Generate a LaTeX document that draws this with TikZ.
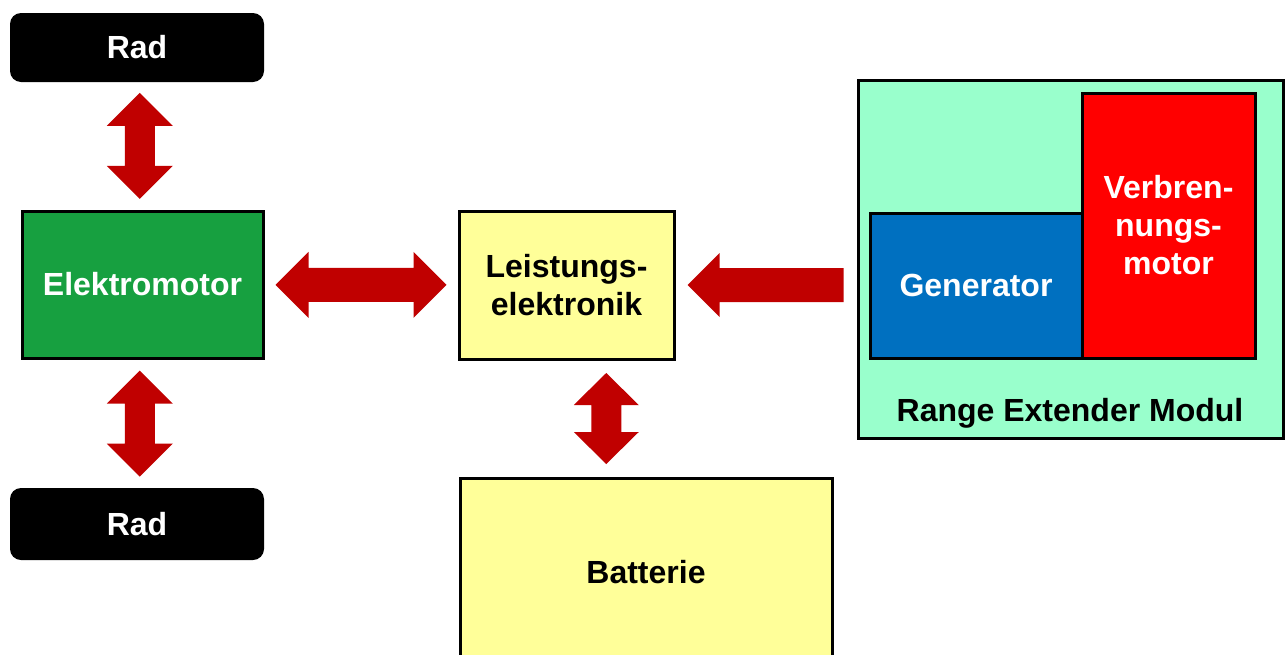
\documentclass[tikz,border=0pt]{standalone}
\usepackage{fontspec}
\setmainfont{Liberation Sans}
\usetikzlibrary{calc}
\definecolor{arrowred}{HTML}{C00000}
\definecolor{emgreen}{HTML}{17A040}
\definecolor{genblue}{HTML}{0070C0}
\definecolor{vmred}{HTML}{FF0000}
\definecolor{remint}{HTML}{99FFCC}
\definecolor{leyellow}{HTML}{FFFF99}
\newcommand\DArrow[6]{\fill[arrowred,shift={(#1)},rotate=#2] (-#3,0) -- (-#3+#4,#5) -- (-#3+#4,#6) -- (#3-#4,#6) -- (#3-#4,#5) -- (#3,0) -- (#3-#4,-#5) -- (#3-#4,-#6) -- (-#3+#4,-#6) -- (-#3+#4,-#5) -- cycle;}
\begin{document}
\begin{tikzpicture}[x=1pt,y=-1pt,
  txt/.style={font=\fontsize{32}{38}\selectfont\bfseries, align=center},
  box/.style={txt, draw=black, line width=3pt, inner sep=0pt},
  radbox/.style={txt, fill=black, text=white, rounded corners=11pt, minimum width=254pt, inner sep=0pt}
]
\clip (0,0) rectangle (1285,654);
\useasboundingbox (0,0) rectangle (1285,654);
\fill[white] (0,0) rectangle (1285,654);

% nodes
\node[radbox, minimum height=69pt] (radT) at (137,47.5) {Rad};
\node[radbox, minimum height=72pt] (radB) at (137,524) {Rad};
\node[box, fill=emgreen, text=white, minimum width=241pt, minimum height=147pt] (em) at (142.5,284.5) {Elektromotor};
\node[box, fill=leyellow, minimum width=215pt, minimum height=148pt] (le) at (566.5,285) {Leistungs-\\elektronik};
\node[box, fill=leyellow, minimum width=372pt, minimum height=188pt] (bat) at (646,572) {Batterie};
\node[box, fill=remint, minimum width=425pt, minimum height=358pt] (re) at (1070.5,259) {};
\node[box, fill=genblue, text=white, minimum width=212pt, minimum height=145pt] (gen) at (976,285.5) {Generator};
\node[box, fill=vmred, text=white, minimum width=173pt, minimum height=265pt] (vm) at (1168.5,225.5) {Verbren-\\nungs-\\motor};
\node[txt] (relabel) at (1070,413) {Range Extender Modul};

% connectors (block arrows between nodes)
\coordinate (c1) at ($(radT.south)!0.5!(em.north)$);
\coordinate (c2) at ($(em.south)!0.5!(radB.north)$);
\coordinate (c3) at ($(em.east)!0.5!(le.west)$);
\coordinate (c4) at ($(le.south)!0.5!(bat.north)$);
\DArrow{c1}{90}{53}{33}{33}{15}
\DArrow{c2}{90}{53}{33}{33}{15}
\DArrow{c3}{0}{85.5}{33}{33}{17}
\DArrow{c4}{90}{45.5}{32}{32.5}{15}

\coordinate (tip) at ($(le.east)+(12,0)$);
\coordinate (tail) at ($(re.west |- le.east)+(-13,0)$);
\fill[arrowred] (tip) -- ($(tip)+(32,-32)$) -- ($(tip)+(32,-17)$) -- ($(tail)+(0,-17)$) -- ($(tail)+(0,17)$) -- ($(tip)+(32,17)$) -- ($(tip)+(32,32)$) -- cycle;
\end{tikzpicture}
\end{document}
